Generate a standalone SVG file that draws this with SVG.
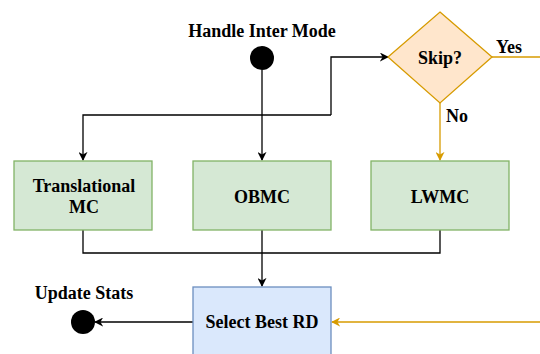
<svg xmlns="http://www.w3.org/2000/svg" width="540" height="354" viewBox="0 0 540 354">
<defs>
<style>
.t{font-family:"Liberation Serif","Times New Roman",serif;font-weight:bold;font-size:18px;fill:#000;text-anchor:middle}
.g{fill:#d5e8d4;stroke:#82b366;stroke-width:1.3}
.b{fill:#dae8fc;stroke:#6c8ebf;stroke-width:1.3}
.k{fill:none;stroke:#000;stroke-width:1.3}
.o{fill:none;stroke:#d79b00;stroke-width:1.3}
</style>
<marker id="ak" viewBox="0 0 10 10" refX="9" refY="5" markerWidth="9" markerHeight="9" markerUnits="userSpaceOnUse" orient="auto"><path d="M0,0 L10,5 L0,10 L3,5 Z" fill="#000"/></marker>
<marker id="ao" viewBox="0 0 10 10" refX="9" refY="5" markerWidth="9" markerHeight="9" markerUnits="userSpaceOnUse" orient="auto"><path d="M0,0 L10,5 L0,10 L3,5 Z" fill="#d79b00"/></marker>
</defs>
<g id="connectors">
<path class="k" d="M262,70 V160" marker-end="url(#ak)"/>
<path class="k" d="M331,115 V57 H388" marker-end="url(#ak)"/>
<path class="k" d="M331,115 H83 V160" marker-end="url(#ak)"/>
<path class="o" d="M440,103 V160" marker-end="url(#ao)"/>
<path class="o" d="M492,57 H540"/>
<path class="k" d="M83,230 V253 H440 V230"/>
<path class="k" d="M262,230 V286" marker-end="url(#ak)"/>
<path class="k" d="M193,322 H95" marker-end="url(#ak)"/>
<path class="o" d="M540,322 H332" marker-end="url(#ao)"/>
</g>
<g id="start"><circle cx="262" cy="58" r="12" fill="#000"/><text class="t" x="262" y="37">Handle Inter Mode</text></g>
<g id="skip"><path d="M440,12 L492,57 L440,103 L388,57 Z" fill="#ffe6cc" stroke="#d79b00" stroke-width="1.3"/><text class="t" x="440" y="64">Skip?</text></g>
<g id="yes"><text class="t" x="509" y="53">Yes</text></g>
<g id="no"><text class="t" x="457" y="122">No</text></g>
<g id="trans"><rect class="g" x="14" y="161" width="138" height="69"/><text class="t" x="84" y="192">Translational</text><text class="t" x="84" y="213">MC</text></g>
<g id="obmc"><rect class="g" x="193" y="161" width="138" height="69"/><text class="t" x="262" y="203">OBMC</text></g>
<g id="lwmc"><rect class="g" x="371" y="161" width="138" height="69"/><text class="t" x="440" y="203">LWMC</text></g>
<g id="select"><rect class="b" x="193" y="287" width="138" height="70"/><text class="t" x="262" y="328">Select Best RD</text></g>
<g id="end"><circle cx="83" cy="322" r="12" fill="#000"/><text class="t" x="84" y="299">Update Stats</text></g>
</svg>
